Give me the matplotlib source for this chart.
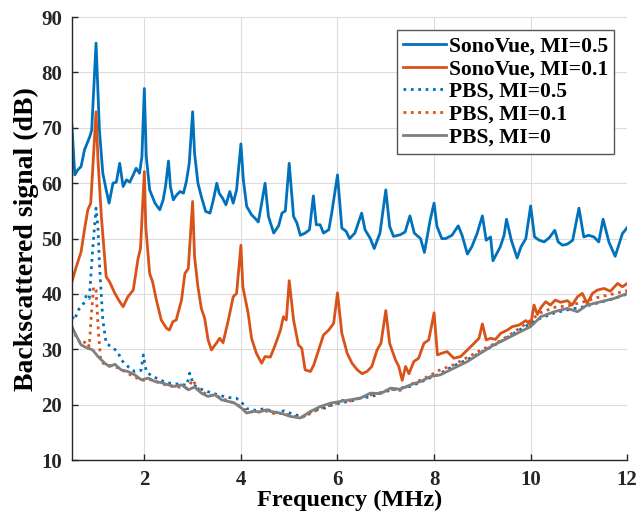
import matplotlib
matplotlib.use("Agg")
import matplotlib.pyplot as plt

# SonoVue, MI=0.5
sv05_freq = [0.5, 0.56, 0.62, 0.69, 0.76, 0.87, 0.91, 1.0, 1.07, 1.14,
             1.21, 1.27, 1.35, 1.42, 1.49, 1.56, 1.63, 1.70, 1.77, 1.83,
             1.90, 1.95, 2.0, 2.04, 2.11, 2.22, 2.32, 2.39, 2.44, 2.5,
             2.54, 2.60, 2.67, 2.74, 2.81, 2.87, 2.93, 3.0, 3.04, 3.11,
             3.18, 3.27, 3.36, 3.43, 3.5, 3.55, 3.62, 3.69, 3.77, 3.84,
             3.91, 4.0, 4.05, 4.12, 4.22, 4.29, 4.36, 4.43, 4.5, 4.57,
             4.68, 4.78, 4.85, 4.92, 5.0, 5.09, 5.16, 5.23, 5.33, 5.42,
             5.5, 5.56, 5.64, 5.71, 5.82, 5.88, 6.0, 6.09, 6.18, 6.25,
             6.36, 6.5, 6.57, 6.68, 6.76, 6.88, 7.0, 7.08, 7.16, 7.30,
             7.40, 7.5, 7.59, 7.72, 7.80, 7.92, 8.0, 8.06, 8.16, 8.24,
             8.37, 8.5, 8.58, 8.69, 8.78, 8.89, 9.0, 9.08, 9.17, 9.22,
             9.37, 9.45, 9.5, 9.60, 9.72, 9.80, 9.90, 10.0, 10.08, 10.18,
             10.28, 10.39, 10.5, 10.57, 10.66, 10.76, 10.87, 11.0, 11.10, 11.20,
             11.31, 11.41, 11.5, 11.62, 11.75, 11.90, 12.0]
sv05_db = [70.5, 61.5, 62.4, 63, 66, 68.4, 69.6, 85.3, 69.6, 61.8,
           58.8, 56.4, 60, 60.2, 63.6, 59.4, 60.6, 60.2, 61.5, 62.7,
           61.8, 64.8, 77.1, 64.8, 58.8, 56.4, 55.2, 57, 59.5, 64,
           59.4, 57, 57.9, 58.5, 58.2, 60.3, 63.6, 72.9, 65.4, 60,
           57.6, 54.9, 54.6, 57, 60, 58.2, 57.3, 56.1, 58.5, 56.4,
           58.8, 67.1, 60.6, 55.8, 54.3, 53.7, 53, 56.4, 60, 54,
           51, 52.3, 54.6, 55, 63.6, 54, 52.8, 50.6, 51, 51.6,
           57.7, 52.5, 52.5, 51, 51.6, 54.6, 61.5, 51.9, 51.3, 50,
           51, 54.6, 51.6, 50, 48.2, 51, 58.8, 52.2, 50.4, 50.7,
           51.2, 54.1, 51, 50, 47.5, 53.4, 56.4, 52.2, 50, 50,
           50.6, 52.3, 50.6, 47.2, 48.5, 50.9, 54.1, 49.7, 50.3, 46,
           48.5, 50.6, 53.5, 49.7, 46.5, 48.5, 50, 55.9, 50.3, 49.7,
           49.4, 50.2, 51.5, 49.4, 48.8, 49, 49.7, 55.5, 50.3, 50.6,
           50.3, 49.4, 53.5, 49.4, 46.8, 50.9, 52]

# SonoVue, MI=0.1
sv01_freq = [0.5, 0.59, 0.69, 0.76, 0.83, 0.89, 1.0, 1.04, 1.11, 1.21,
             1.28, 1.39, 1.49, 1.56, 1.66, 1.77, 1.87, 1.92, 2.0, 2.03,
             2.11, 2.17, 2.25, 2.35, 2.46, 2.52, 2.59, 2.66, 2.77, 2.84,
             2.91, 3.0, 3.04, 3.11, 3.18, 3.25, 3.32, 3.39, 3.49, 3.56,
             3.63, 3.74, 3.84, 3.91, 4.0, 4.04, 4.15, 4.22, 4.32, 4.43,
             4.50, 4.61, 4.71, 4.82, 4.88, 4.94, 5.0, 5.09, 5.19, 5.26,
             5.33, 5.44, 5.51, 5.61, 5.71, 5.82, 5.92, 6.0, 6.09, 6.20,
             6.30, 6.41, 6.51, 6.61, 6.71, 6.82, 6.90, 7.0, 7.08, 7.20,
             7.27, 7.34, 7.41, 7.48, 7.58, 7.68, 7.79, 7.89, 8.0, 8.07,
             8.16, 8.27, 8.41, 8.55, 8.69, 8.83, 8.93, 9.0, 9.08, 9.17,
             9.27, 9.38, 9.52, 9.62, 9.76, 9.90, 10.0, 10.07, 10.14, 10.21,
             10.31, 10.41, 10.51, 10.62, 10.76, 10.86, 10.97, 11.07, 11.17, 11.28,
             11.38, 11.52, 11.65, 11.80, 11.90, 12.0]
sv01_db = [42.2, 44.9, 47.6, 51.6, 55.2, 56.4, 72.9, 64.2, 54, 43.1,
           42.2, 40.1, 38.6, 37.7, 39.5, 40.7, 46.4, 48.2, 62.1, 52.1,
           43.7, 42.2, 38.9, 35.3, 33.8, 33.5, 35, 35.3, 38.9, 43.7,
           44.6, 56.7, 46.7, 41.3, 37.4, 35.6, 31.7, 29.9, 31.1, 32,
           31.2, 35.3, 39.5, 40.1, 48.8, 41.3, 36.5, 32, 29.3, 27.5,
           28.7, 28.6, 30.8, 33.5, 35.9, 35.3, 42.4, 35.3, 30.8, 30.2,
           26.3, 26, 27.2, 29.9, 32.6, 33.5, 34.7, 40.2, 32.9, 29.3,
           27.5, 26.3, 25.6, 26, 26.9, 29.9, 31.1, 37, 31.1, 28.1,
           26.9, 24.4, 26.9, 25.6, 27.8, 28.4, 31.1, 31.7, 36.6, 29,
           29.3, 29.6, 28.4, 28.7, 29.9, 31.1, 32, 34.6, 31.7, 32,
           31.8, 32.9, 33.5, 34.1, 34.4, 35.2, 34.4, 38, 36.3, 37.5,
           38.6, 38, 38.9, 38.5, 38.8, 38, 39.5, 40.1, 38.3, 40.1,
           40.7, 41, 40.5, 41.9, 41.3, 41.9]

# PBS, MI=0.5
pbs05_freq = [0.5, 0.56, 0.62, 0.69, 0.76, 0.80, 0.86, 0.93, 1.0, 1.04,
              1.07, 1.14, 1.21, 1.31, 1.45, 1.52, 1.66, 1.80, 1.93, 1.98,
              2.04, 2.15, 2.30, 2.45, 2.6, 2.75, 2.88, 2.94, 3.02, 3.15,
              3.3, 3.45, 3.6, 3.75, 3.9, 4.0, 4.12, 4.3, 4.5, 4.7,
              4.9, 5.1, 5.3, 5.5, 5.7, 5.9, 6.1, 6.3, 6.5, 6.7,
              6.9, 7.1, 7.3, 7.5, 7.7, 7.9, 8.1, 8.4, 8.7, 9.0,
              9.3, 9.6, 9.9, 10.2, 10.5, 10.8, 11.1, 11.4, 11.7, 12.0]
pbs05_db = [35.9, 35.3, 37.0, 37.7, 38.5, 39.8, 39.2, 48, 55.5, 52,
            45.5, 35.3, 31.1, 30.5, 29.6, 28.1, 26.9, 26.0, 26.2, 29.0,
            26.0, 25.2, 24.6, 24.0, 23.8, 23.7, 23.5, 25.7, 23.6, 22.9,
            22.4, 22.0, 21.6, 21.3, 21.2, 20.6, 19.3, 19.0, 19.3, 18.6,
            18.9, 18.2, 17.9, 19.0, 19.3, 20.0, 20.4, 20.7, 21.3, 21.4,
            22.2, 22.6, 23.0, 23.3, 24.0, 24.8, 25.5, 27.0, 28.2, 29.6,
            31.0, 32.6, 34.2, 35.6, 36.6, 37.2, 37.7, 38.4, 39.1, 40.0]

# PBS, MI=0.1
pbs01_freq = [0.5, 0.6, 0.7, 0.8, 0.86, 0.90, 0.95, 1.0, 1.05, 1.10,
              1.2, 1.35, 1.5, 1.65, 1.8, 1.95, 2.1, 2.3, 2.5, 2.7,
              2.9, 3.0, 3.1, 3.3, 3.5, 3.7, 3.9, 4.1, 4.3, 4.5,
              4.7, 4.9, 5.1, 5.3, 5.5, 5.7, 5.9, 6.1, 6.3, 6.5,
              6.7, 6.9, 7.1, 7.3, 7.5, 7.7, 7.9, 8.1, 8.4, 8.7,
              9.0, 9.3, 9.6, 9.9, 10.2, 10.5, 10.8, 11.1, 11.4, 11.7,
              12.0]
pbs01_db = [34.0, 32.0, 30.9, 31.5, 30.5, 36, 41.3, 40.7, 33, 27.8,
            27.2, 27.0, 26.5, 25.7, 25.0, 24.4, 24.6, 24.0, 23.4, 23.2,
            23.0, 24.5, 23.0, 21.8, 21.6, 20.8, 20.2, 19.0, 18.6, 18.9,
            18.4, 18.4, 17.9, 17.8, 18.7, 19.6, 20.0, 20.8, 20.7, 21.4,
            21.8, 22.2, 22.8, 22.6, 23.6, 24.4, 25.2, 26.2, 27.2, 28.6,
            30.0, 31.2, 32.8, 34.6, 36.6, 37.6, 37.9, 38.6, 39.4, 40.0,
            40.6]

# PBS, MI=0
pbs0_freq = [0.5, 0.6, 0.69, 0.83, 0.93, 1.04, 1.18, 1.28, 1.39, 1.52,
             1.66, 1.80, 1.94, 2.08, 2.22, 2.35, 2.49, 2.63, 2.77, 2.91,
             3.04, 3.18, 3.32, 3.46, 3.60, 3.74, 3.87, 4.01, 4.12, 4.26,
             4.39, 4.53, 4.61, 4.82, 5.02, 5.23, 5.44, 5.65, 5.86, 6.06,
             6.27, 6.48, 6.68, 6.89, 7.10, 7.30, 7.51, 7.72, 7.93, 8.13,
             8.41, 8.69, 8.96, 9.24, 9.52, 9.79, 10.0, 10.21, 10.49, 10.76,
             10.97, 11.17, 11.45, 11.73, 12.0]
pbs0_db = [34.1, 32.3, 30.8, 30.2, 29.9, 28.7, 27.5, 26.9, 27.3, 26.3,
           26.0, 25.4, 24.5, 24.8, 24.2, 24.0, 23.6, 23.3, 23.6, 22.7,
           23.2, 22.1, 21.5, 21.8, 20.9, 20.6, 20.3, 19.4, 18.5, 18.8,
           18.7, 19.1, 18.8, 18.5, 17.9, 17.6, 18.8, 19.7, 20.3, 20.6,
           20.9, 21.2, 22.1, 22.0, 23.0, 22.8, 23.6, 24.2, 25.1, 25.4,
           26.6, 27.8, 29.3, 30.8, 32.0, 33.2, 34.1, 35.9, 36.8, 37.4,
           36.8, 38.0, 38.6, 39.2, 40.1]

x_ticks = [2, 4, 6, 8, 10, 12]
y_ticks = [10, 20, 30, 40, 50, 60, 70, 80, 90]

blue = '#0072BD'
orange = '#D95319'
gray = '#7F7F7F'

plt.rcParams['font.family'] = ['Liberation Serif', 'DejaVu Serif']
plt.rcParams['font.weight'] = 'bold'

fig = plt.figure(figsize=(6.42, 5.17), dpi=100)
ax = fig.add_axes([0.112, 0.110, 0.865, 0.857])

ax.plot(sv05_freq, sv05_db, color=blue, lw=2, label='SonoVue, MI=0.5')
ax.plot(sv01_freq, sv01_db, color=orange, lw=2, label='SonoVue, MI=0.1')
ax.plot(pbs05_freq, pbs05_db, color=blue, lw=2, ls=':', label='PBS, MI=0.5')
ax.plot(pbs01_freq, pbs01_db, color=orange, lw=2, ls=':', label='PBS, MI=0.1')
ax.plot(pbs0_freq, pbs0_db, color=gray, lw=2, label='PBS, MI=0')

ax.set_xlim(0.5, 12)
ax.set_ylim(10, 90)
ax.set_xticks(x_ticks)
ax.set_yticks(y_ticks)
ax.tick_params(direction='in', length=4, width=1, colors='#262626',
               labelsize=15, pad=7)
for lbl in ax.get_xticklabels() + ax.get_yticklabels():
    lbl.set_fontweight('bold')

ax.grid(True, color='#DCDCDC', lw=0.8)
ax.set_axisbelow(True)
for side in ['top', 'right']:
    ax.spines[side].set_visible(False)
for side in ['left', 'bottom']:
    ax.spines[side].set_color('#262626')
    ax.spines[side].set_linewidth(1)

ax.set_xlabel('Frequency (MHz)', fontsize=17.5, fontweight='bold', labelpad=0)
ax.set_ylabel('Backscattered signal (dB)', fontsize=20, fontweight='bold', labelpad=2)

leg = ax.legend(loc='upper right', fontsize=15.5, handlelength=2.0, handletextpad=0.1,
                borderaxespad=0.6, labelspacing=0.12, fancybox=False, framealpha=1,
                borderpad=0.3)
leg.get_frame().set_edgecolor('#555555')
leg.get_frame().set_linewidth(1)

fig.savefig('out.png', dpi=100)
